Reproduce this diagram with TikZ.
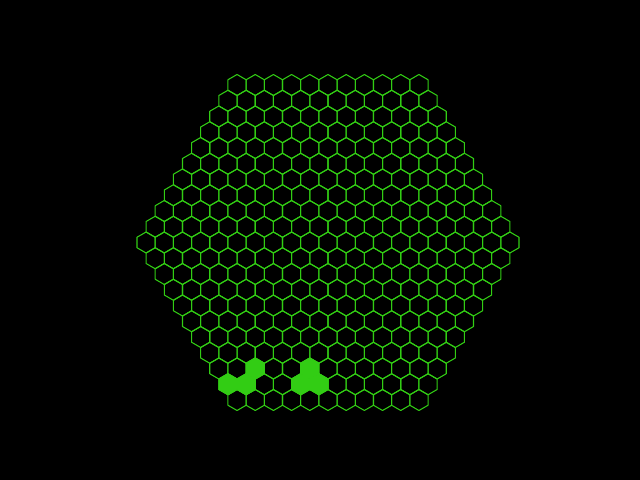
\documentclass[tikz,border=0pt]{standalone}
\usepackage{tikz}

\definecolor{hexgreen}{RGB}{50,205,20}
\newcommand{\hexr}{10.5}
\newcommand{\hexw}{18.19}

\begin{document}
\begin{tikzpicture}[
    x=0.02cm, y=0.02cm,
    cellline/.style={
        draw=hexgreen,
        line width=0.6pt,
        line join=round
    },
    cellfill/.style={
        fill=hexgreen,
        draw=hexgreen,
        line width=0.6pt,
        line join=round
    },
    hexcell/.pic={
        \path[pic actions] (90:\hexr) -- (150:\hexr) -- (210:\hexr)
            -- (270:\hexr) -- (330:\hexr) -- (30:\hexr) -- cycle;
    }
]

% page
\fill[black] (-328,-237.5) rectangle (312,242.5);
\useasboundingbox (-328,-237.5) rectangle (312,242.5);

% grid: 21 rows, 11 to 21 to 11 cells
\foreach \j in {-10,...,10} {
    \pgfmathtruncatemacro{\n}{21-abs(\j)}
    \foreach \k in {1,...,\n} {
        \pgfmathsetmacro{\cx}{(\k-(\n+1)/2)*\hexw}
        \pgfmathsetmacro{\cy}{-\j*1.5*\hexr}
        \pic[cellline] at (\cx,\cy) {hexcell};
    }
}

% filled cells near the bottom
\foreach \j/\k in {9/1, 9/2, 8/3, 9/5, 9/6, 8/6} {
    \pgfmathtruncatemacro{\n}{21-abs(\j)}
    \pgfmathsetmacro{\cx}{(\k-(\n+1)/2)*\hexw}
    \pgfmathsetmacro{\cy}{-\j*1.5*\hexr}
    \pic[cellfill] at (\cx,\cy) {hexcell};
}

\end{tikzpicture}
\end{document}
